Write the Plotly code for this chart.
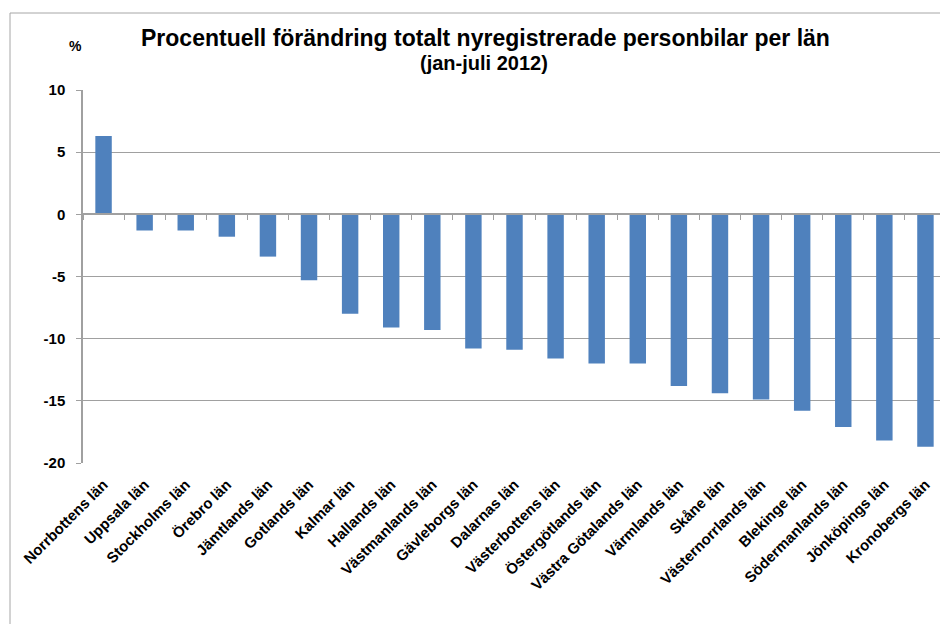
import plotly.graph_objects as go

categories = ["Norrbottens län", "Uppsala län", "Stockholms län", "Örebro län", "Jämtlands län",
              "Gotlands län", "Kalmar län", "Hallands län", "Västmanlands län", "Gävleborgs län",
              "Dalarnas län", "Västerbottens län", "Östergötlands län", "Västra Götalands län",
              "Värmlands län", "Skåne län", "Västernorrlands län", "Blekinge län",
              "Södermanlands län", "Jönköpings län", "Kronobergs län"]
values = [6.3, -1.3, -1.3, -1.8, -3.4, -5.3, -8.0, -9.1, -9.3, -10.8, -10.9, -11.6, -12.0, -12.0,
          -13.8, -14.4, -14.9, -15.8, -17.1, -18.2, -18.7]
y_ticks = [-20, -15, -10, -5, 0, 5, 10]

FONT = "Arial, Liberation Sans, sans-serif"
OFF = 8  # page body margin
W, H = 948, 624
# target plot area on page: x 83..946, y 90..463
L, T = 83 - OFF, 90 - OFF
R = W - (946 - OFF)
B = H - (463 - OFF)
pw, ph = W - L - R, H - T - B


def px(x_page):
    return (x_page - OFF - L) / pw


def py(y_page):
    return (H - B - (y_page - OFF)) / ph


fig = go.Figure()
fig.add_trace(go.Bar(x=categories, y=values, marker=dict(color="#4F81BD", line=dict(width=0)),
                     hoverinfo="x+y"))
fig.add_trace(go.Scatter(x=categories, y=[0] * len(categories), xaxis="x2", mode="markers",
                         marker=dict(opacity=0), hoverinfo="skip", showlegend=False))

fig.update_layout(
    width=W, height=H,
    margin=dict(l=L, r=R, t=T, b=B, autoexpand=False),
    paper_bgcolor="white", plot_bgcolor="white",
    showlegend=False, bargap=0.6,
    font=dict(family=FONT, color="black"),
    xaxis=dict(type="category", categoryorder="array", categoryarray=categories,
               tickangle=-45, ticks="", showgrid=False, showline=False, zeroline=False,
               tickfont=dict(size=15, family=FONT, color="black"),
               ticklabelstandoff=9,
               tickvals=categories, ticktext=["<b>%s</b>" % c for c in categories],
               range=[-0.5, len(categories) - 0.5]),
    xaxis2=dict(type="category", categoryorder="array", categoryarray=categories,
                overlaying="x", anchor="free", position=20 / 30, side="bottom",
                showticklabels=False, ticks="outside", ticklen=5, tickcolor="#A0A0A0",
                tickson="boundaries", showline=True, linecolor="#A0A0A0", linewidth=1.5,
                showgrid=False, zeroline=False, range=[-0.5, len(categories) - 0.5]),
    yaxis=dict(range=[-20, 10], tickvals=y_ticks, ticktext=["<b>%d</b>" % v for v in y_ticks],
               ticks="outside", ticklen=5, tickcolor="#A0A0A0",
               showline=True, linecolor="#A0A0A0", linewidth=1.5,
               showgrid=True, gridcolor="#A0A0A0", gridwidth=1.2, zeroline=False,
               tickfont=dict(size=15, family=FONT, color="black"), ticklabelstandoff=8),
    annotations=[
        dict(text="<b>Procentuell förändring totalt nyregistrerade personbilar per län</b>",
             x=px(485), y=py(38), xref="paper", yref="paper", showarrow=False,
             xanchor="center", yanchor="middle", font=dict(size=23, family=FONT, color="black")),
        dict(text="<b>(jan-juli 2012)</b>",
             x=px(484), y=py(63), xref="paper", yref="paper", showarrow=False,
             xanchor="center", yanchor="middle", font=dict(size=20, family=FONT, color="black")),
        dict(text="<b>%</b>", x=px(75), y=py(46), xref="paper", yref="paper", showarrow=False,
             xanchor="center", yanchor="middle", font=dict(size=14, family=FONT, color="black")),
    ],
    shapes=[
        dict(type="line", xref="paper", yref="paper", x0=px(10), x1=px(W + 20),
             y0=py(13), y1=py(13), line=dict(color="#A6A6A6", width=1)),
        dict(type="line", xref="paper", yref="paper", x0=px(10), x1=px(10),
             y0=py(13), y1=py(H + 20), line=dict(color="#A6A6A6", width=1)),
    ],
)
fig.write_html("out.html")
